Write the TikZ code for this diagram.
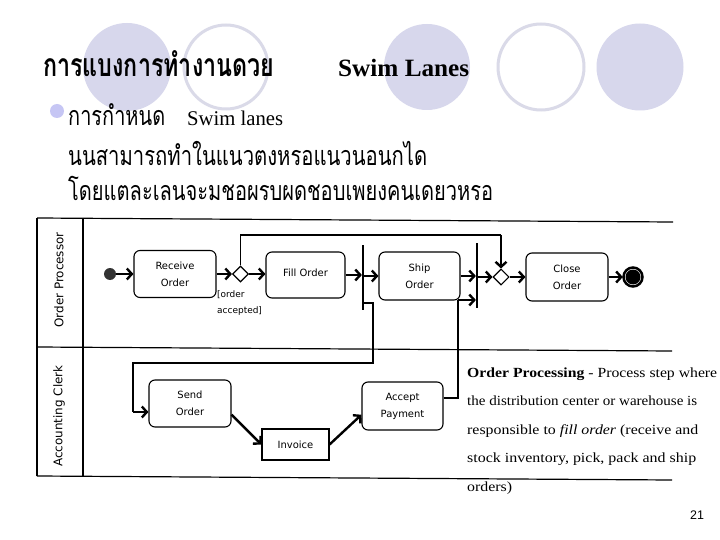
\documentclass[tikz,border=0pt]{standalone}
\usepackage{fontspec}
\usepackage{graphicx}
\usetikzlibrary{arrows.meta,shapes.geometric,calc}
\setmainfont{Liberation Serif}
\newfontfamily\thaifont[Script=Thai]{Loma}
\newfontfamily\diagfont{DejaVu Sans}
\newfontfamily\pnfont{Liberation Sans}
\definecolor{lav}{RGB}{215,215,236}
\definecolor{lavline}{RGB}{218,218,232}
\definecolor{bulletc}{RGB}{198,198,244}
\newcommand\fitw[2]{\resizebox{#1}{\height}{#2}}
\begin{document}
\begin{tikzpicture}[x=1bp,y=-1bp,
  act/.style={draw, line width=1.1bp, rounded corners=6bp, align=center, inner sep=0pt, font=\diagfont\fontsize{10}{17}\selectfont},
  sq/.style={draw, line width=1.1bp, align=center, inner sep=0pt, font=\diagfont\fontsize{10}{17}\selectfont},
  gate/.style={diamond, draw, line width=1.1bp, fill=white, inner sep=0pt, minimum width=16bp, minimum height=16bp},
  bar/.style={rectangle, fill=black, inner sep=0pt, minimum width=1.8bp},
  flow/.style={line width=2.4bp, -{Straight Barb[length=5bp,width=11bp]}},
  route/.style={line width=1.2bp},
  frame/.style={line width=1.2bp},
  lane/.style={rotate=90, inner sep=0pt, font=\diagfont\fontsize{12}{14}\selectfont},
  bodytext/.style={anchor=base west, inner sep=0pt},
]
\useasboundingbox (0,0) rectangle (720,540);
\fill[white] (0,0) rectangle (720,540);

% decorative circles
\fill[lav] (127,67) circle (44bp);
\draw[lavline, line width=3bp] (226,67) circle (42bp);
\fill[lav] (427,67) circle (43bp);
\draw[lavline, line width=3bp] (541,67) circle (43bp);
\fill[lav] (640,67) circle (43.5bp);

% title
\node[bodytext] (title) at (43,77) {\fitw{231bp}{\fontsize{32}{36}\thaifont\bfseries การแบงการทำงานดวย}};
\node[bodytext] (title2) at (338,77) {\fitw{131bp}{\fontsize{25}{30}\selectfont\bfseries Swim Lanes}};

% body
\fill[bulletc] (57,111) circle (7bp);
\node[bodytext] (b1th) at (68,126) {\fitw{97bp}{\fontsize{27}{30}\thaifont การกำหนด}};
\node[bodytext] (b1en) at (187,126) {\fitw{96bp}{\fontsize{21}{25}\selectfont Swim lanes}};
\node[bodytext] (b2) at (68,166) {\fitw{359bp}{\fontsize{27}{30}\thaifont นนสามารถทำในแนวตงหรอแนวนอนกได}};
\node[bodytext] (b3) at (68,201) {\fitw{425bp}{\fontsize{27}{30}\thaifont โดยแตละเลนจะมชอผรบผดชอบเพยงคนเดยวหรอ}};

% frame (slightly tilted, as in the scan)
\draw[frame] (37,218) -- (673,222);
\draw[frame] (37,347) -- (672,351);
\draw[frame] (37,476) -- (672,480);
\draw[frame] (37,218) -- (37,476);
\draw[frame] (83,218) -- (83,476);

\node[lane] (lane1) at (59,280) {Order Processor};
\node[lane] (lane2) at (59,416) {Accounting Clerk};

% upper lane
\node[circle, fill=black!80, inner sep=0pt, minimum size=12bp] (start) at (110,274) {};
\node[act, minimum width=82bp, minimum height=47bp] (recv) at (175,274) {Receive\\Order};
\node[gate] (d1) at (240.5,274) {};
\node[act, minimum width=79bp, minimum height=46bp] (fillo) at (305.5,275) {\raisebox{5bp}{Fill Order}};
\node[bar, minimum height=65bp] (fork) at (363,277.5) {};
\node[act, minimum width=81bp, minimum height=48bp] (ship) at (419.5,276) {Ship\\Order};
\node[bar, minimum height=65bp] (join) at (477,275.5) {};
\node[gate] (d2) at (501,277) {};
\node[act, minimum width=82bp, minimum height=48bp] (close) at (567,277) {Close\\Order};
\node[circle, fill=black, inner sep=0pt, minimum size=15bp] (endn) at (633,277) {};
\draw[line width=2.5bp] (endn.center) circle (9.5bp);

\node[anchor=north west, inner sep=0pt, align=left, font=\diagfont\fontsize{9}{17}\selectfont] (guard) at (217,290) {[order\\accepted]};

\draw[flow] (start.east) -- (recv.west);
\draw[flow] (recv.east) -- (d1.west);
\draw[flow] (d1.east) -- (d1.east -| fillo.west);
\draw[flow] (fillo.east) -- (fillo.east -| fork.west);
\draw[flow] (fork.east |- ship.west) -- (ship.west);
\draw[flow] (ship.east) -- (ship.east -| join.west);
\draw[flow] (join.east |- d2.west) -- (d2.west);
\draw[flow] (d2.east) -- (close.west);
\draw[flow, shorten >=2.5bp] (close.east) -- (endn.west);

\coordinate (tb) at (0,235);
\draw[route] (d1.north) |- (d2.north |- tb);
\draw[flow] (d2.north |- tb) -- (d2.north);

% lower lane
\node[act, minimum width=82bp, minimum height=47bp] (send) at (190,403.5) {Send\\Order};
\node[sq, minimum width=67bp, minimum height=31bp] (inv) at (295.5,444.5) {Invoice};
\node[act, minimum width=81bp, minimum height=48bp] (acc) at (402.5,406) {Accept\\Payment};

\coordinate (fy) at (0,303);
\coordinate (r1) at (373,363);
\coordinate (r2) at (133,412);
\draw[route] (fork.east |- fy) -| (r1) -| (r2);
\draw[flow] (r2) -- (r2 -| send.west);

\draw[flow] (send.-15) -- (inv.west);
\draw[flow] (inv.east) -- (acc.192);

\coordinate (ay) at (0,398);
\coordinate (a1) at (458,300);
\draw[route] (acc.east |- ay) -| (a1);
\draw[flow] (a1) -- (a1 -| join.west);

% note text
\node[bodytext] (t1) at (467,377) {\fitw{250bp}{\fontsize{14}{16}\selectfont\textbf{Order Processing} - Process step where}};
\node[bodytext] (t2) at (467,405.5) {\fitw{230bp}{\fontsize{14}{16}\selectfont the distribution center or warehouse is}};
\node[bodytext] (t3) at (467,434) {\fitw{231bp}{\fontsize{14}{16}\selectfont responsible to \textit{fill order} (receive and}};
\node[bodytext] (t4) at (467,462.5) {\fitw{229bp}{\fontsize{14}{16}\selectfont stock inventory, pick, pack and ship}};
\node[bodytext] (t5) at (467,491) {\fitw{45bp}{\fontsize{14}{16}\selectfont orders)}};

\node[anchor=base, inner sep=0pt, font=\pnfont\fontsize{12.5}{14}\selectfont] (pg) at (697,519) {21};
\end{tikzpicture}
\end{document}
